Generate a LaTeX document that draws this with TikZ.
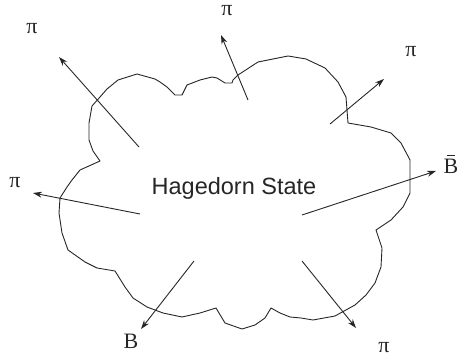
\documentclass[tikz,border=0pt]{standalone}
\usepackage{fontspec}
\setmainfont{Liberation Serif}
\newfontfamily\arialish{Liberation Sans}
\usetikzlibrary{arrows.meta}
\newcommand{\barB}{\ooalign{B\cr\hidewidth\raisebox{0.78em}{\rule{0.38em}{0.055em}}\hidewidth\cr}}
\begin{document}
\begin{tikzpicture}[x=1pt,y=-1pt,
  cloudline/.style={draw=black!85,line width=0.9pt,line join=round},
  ray/.style={draw=black!85,line width=0.9pt,-{Stealth[length=9pt,width=6pt]}},
  particle/.style={font=\fontsize{22}{25}\selectfont,inner sep=0pt,text=black!85},
  title/.style={font=\arialish\fontsize{23.5}{26}\selectfont,inner sep=0pt,text=black!85,anchor=base}]
\useasboundingbox (0,0) rectangle (457,363);
% cloud outline
\draw[cloudline] (100,161) -- (93,151) -- (89,140) -- (89,123) -- (92,106) -- (100,97) -- (107,89) -- (118,80) -- (137,74) -- (155,79) -- (160,82) -- (167,87) -- (175,95) -- (182,95) -- (187,85) -- (200,80) -- (212,77) -- (217,78) -- (225,83) -- (232,83) -- (233,80) -- (238,75) -- (258,62) -- (288,56) -- (306,59) -- (325,68) -- (338,82) -- (346,97) -- (348,123) -- (371,127) -- (391,133) -- (401,143) -- (410,160) -- (410,193) -- (403,207) -- (391,220) -- (376,230) -- (382,248) -- (381,267) -- (375,283) -- (366,295) -- (355,305) -- (335,316) -- (313,320) -- (301,318) -- (290,317) -- (280,313) -- (271,308) -- (265,318) -- (255,325) -- (242,329) -- (225,323) -- (216,308) -- (200,313) -- (182,317) -- (163,313) -- (147,307) -- (133,298) -- (125,287) -- (115,271) -- (97,268) -- (85,262) -- (68,250) -- (62,233) -- (59,213) -- (60,198) -- (67,187) -- (72,180) -- (80,170) -- cycle;
% title
\node[title] (hs) at (234,195) {Hagedorn State};
% ray tails and heads
\coordinate (t1) at (139,147); \coordinate (h1) at (59,57);
\coordinate (t2) at (248,100); \coordinate (h2) at (221,35);
\coordinate (t3) at (330,124); \coordinate (h3) at (384,79);
\coordinate (t4) at (140,214); \coordinate (h4) at (33,193);
\coordinate (t5) at (302,215); \coordinate (h5) at (436,171);
\coordinate (t6) at (302,261); \coordinate (h6) at (356,328);
\coordinate (t7) at (194,261); \coordinate (h7) at (141,329);
\foreach \i in {1,...,7} {\draw[ray] (t\i) -- (h\i);}
% labels
\node[particle] (p1) at (32,29) {π};
\node[particle] (p2) at (227,11) {π};
\node[particle] (p3) at (411,52) {π};
\node[particle] (p4) at (15,183) {π};
\node[particle] (p5) at (451,166) {\barB};
\node[particle] (p6) at (384,348) {π};
\node[particle] (p7) at (131,341) {B};
\end{tikzpicture}
\end{document}
